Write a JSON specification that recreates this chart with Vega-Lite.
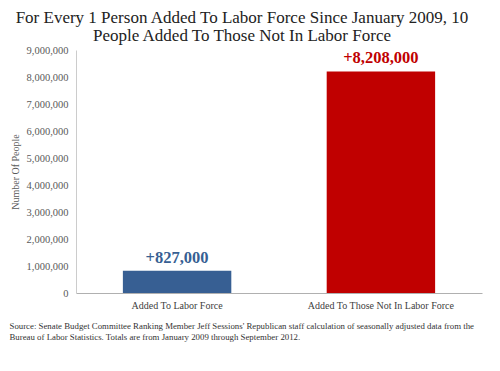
{
  "$schema": "https://vega.github.io/schema/vega-lite/v6.json",
  "width": 406,
  "height": 243,
  "autosize": {"type": "none"},
  "padding": {"left": 76, "top": 50, "right": 18, "bottom": 78},
  "background": "white",
  "title": {
    "text": ["For Every 1 Person Added To Labor Force Since January 2009, 10", "People Added To Those Not In Labor Force"],
    "font": "Liberation Serif",
    "fontSize": 17,
    "fontWeight": "normal",
    "color": "#222222",
    "lineHeight": 18.5,
    "anchor": "middle",
    "dx": -37,
    "offset": 0
  },
  "data": {
    "values": [
      {"category": "Added To Labor Force", "people": 827000, "label": "+827,000"},
      {"category": "Added To Those Not In Labor Force", "people": 8208000, "label": "+8,208,000"}
    ]
  },
  "encoding": {
    "x": {
      "field": "category",
      "type": "nominal",
      "sort": null,
      "scale": {"paddingInner": 0.468, "paddingOuter": 0.23},
      "axis": {
        "title": ["Source: Senate Budget Committee Ranking Member Jeff Sessions' Republican staff calculation of  seasonally adjusted data from the", "Bureau of Labor Statistics.  Totals are from January 2009 through September 2012."],
        "titleFont": "Liberation Serif",
        "titleFontSize": 8.8,
        "titleFontWeight": "normal",
        "titleColor": "#333333",
        "titleAlign": "left",
        "titleAnchor": "start",
        "titleBaseline": "top",
        "titleX": -67,
        "titleY": 28,
        "titleLineHeight": 11.5,
        "labelAngle": 0,
        "labelFont": "Liberation Serif",
        "labelFontSize": 10,
        "labelColor": "#404040",
        "labelPadding": 7,
        "ticks": false,
        "domainColor": "#b0b0b0",
        "grid": false
      }
    },
    "y": {
      "field": "people",
      "type": "quantitative",
      "scale": {"domain": [0, 9000000]},
      "axis": {
        "title": "Number Of People",
        "titleFont": "Liberation Serif",
        "titleFontSize": 10,
        "titleFontWeight": "normal",
        "titleColor": "#595959",
        "titlePadding": 6,
        "values": [0, 1000000, 2000000, 3000000, 4000000, 5000000, 6000000, 7000000, 8000000, 9000000],
        "format": ",d",
        "labelFont": "Liberation Serif",
        "labelFontSize": 10.5,
        "labelColor": "#595959",
        "labelPadding": 8,
        "ticks": false,
        "grid": false,
        "domainColor": "#cccccc"
      }
    },
    "color": {
      "field": "category",
      "type": "nominal",
      "scale": {"domain": ["Added To Labor Force", "Added To Those Not In Labor Force"], "range": ["#375F93", "#C00000"]},
      "legend": null
    }
  },
  "layer": [
    {"mark": {"type": "bar"}},
    {
      "mark": {"type": "text", "dy": -13, "font": "Liberation Serif", "fontSize": 16.5, "fontWeight": "bold", "baseline": "middle"},
      "encoding": {
        "text": {"field": "label"},
        "color": {
          "field": "category",
          "type": "nominal",
          "scale": {"domain": ["Added To Labor Force", "Added To Those Not In Labor Force"], "range": ["#2F4F7F", "#C00000"]},
          "legend": null
        }
      }
    }
  ],
  "config": {"view": {"stroke": null}}
}
